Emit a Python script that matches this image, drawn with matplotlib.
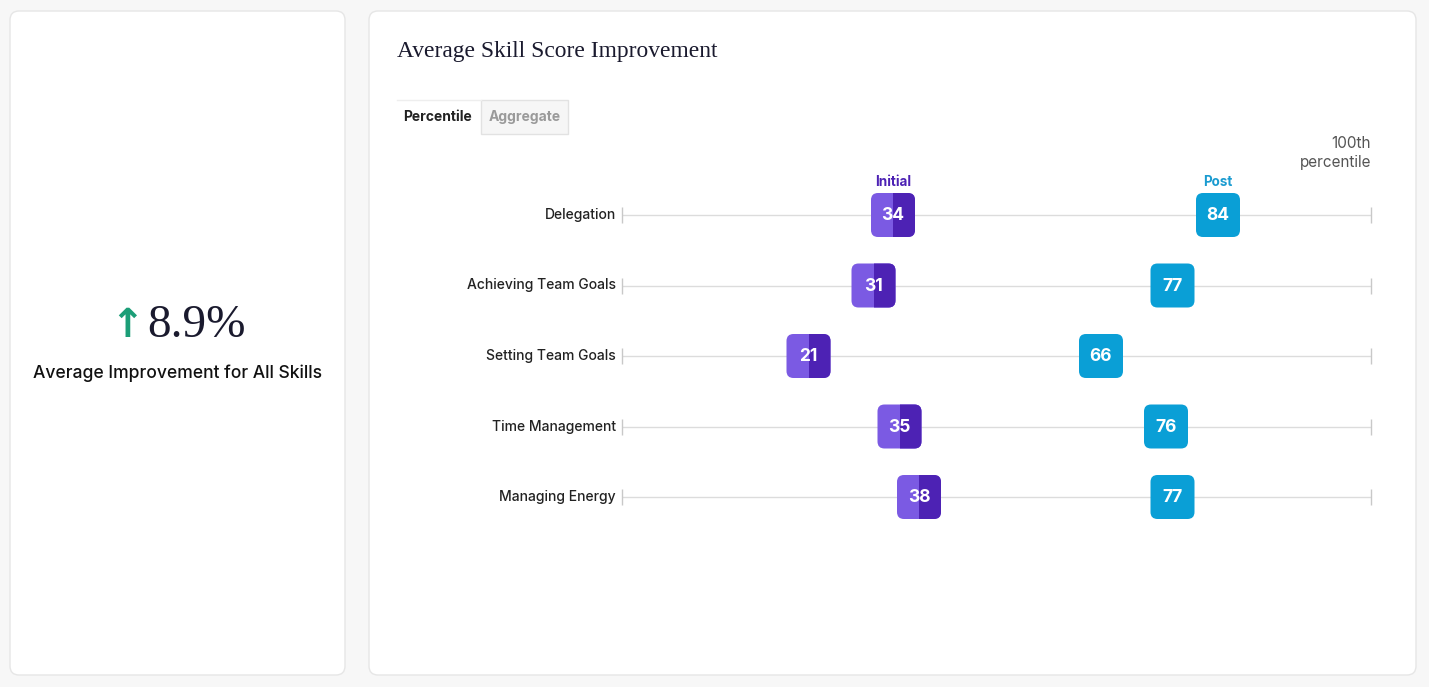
import matplotlib.pyplot as plt
import numpy as np
from matplotlib.patches import FancyBboxPatch, Rectangle

# Data
skills = ['Delegation', 'Achieving Team Goals', 'Setting Team Goals',
          'Time Management', 'Managing Energy']
initial = [34, 31, 21, 35, 38]
post = [84, 77, 66, 76, 77]
avg_improvement = '8.9%'

W, H = 1429, 687
fig = plt.figure(figsize=(W / 100, H / 100), dpi=100)
fig.patch.set_facecolor('#f7f7f7')

# background axes in pixel coordinates for cards and text
bg = fig.add_axes([0, 0, 1, 1])
bg.set_xlim(0, W)
bg.set_ylim(H, 0)
bg.axis('off')

for x0, x1 in [(10, 345), (369, 1416)]:
    bg.add_patch(FancyBboxPatch((x0, 11), x1 - x0, 664,
                                boxstyle='round,pad=0,rounding_size=9',
                                fc='white', ec='#e6e6e6', lw=1))

# left card
bg.text(127, 326, '↑', color='#1b9e77', fontsize=29, fontweight='bold',
        ha='center', va='center', family='DejaVu Sans')
bg.text(197, 326, avg_improvement, color='#1a1a2e', fontsize=34,
        ha='center', va='center', family='Liberation Serif')
bg.text(178, 373, 'Average Improvement for All Skills', color='#111111',
        fontsize=12.6, fontweight='medium', ha='center', va='center', family='Inter')

# right card title and tabs
bg.text(397, 52, 'Average Skill Score Improvement', color='#1a1a2e',
        fontsize=16.9, ha='left', va='center', family='Liberation Serif')
bg.add_patch(Rectangle((481, 100), 87, 34, fc='#f6f6f6', ec='#e2e2e2', lw=1))
bg.plot([397, 481], [100, 100], color='#eeeeee', lw=1)
bg.text(438, 117, 'Percentile', fontsize=10, fontweight='bold', color='#222222',
        ha='center', va='center', family='Inter')
bg.text(524.5, 117, 'Aggregate', fontsize=10, fontweight='bold', color='#9a9a9a',
        ha='center', va='center', family='Inter')
bg.text(1371, 153, '100th\npercentile', fontsize=11, color='#555555',
        ha='right', va='center', linespacing=1.25, family='Inter')

# dumbbell axes: 0 -> px 672, 100 -> px 1322, line spans px 622..1371
px_per = 6.5
xl = (0 - 50 / px_per, 100 + 49 / px_per)
ax = fig.add_axes([622 / W, 1 - 532.25 / H, (1371 - 622) / W, (532.25 - 179.75) / H])
ax.set_xlim(*xl)
ax.set_ylim(len(skills) - 0.5, -0.5)
ax.axis('off')

ys = np.arange(len(skills))
ax.hlines(ys, xl[0], xl[1], color='#dcdcdc', lw=1, zorder=1, clip_on=False)
tick_h = 8 / 70.5
for x in xl:
    ax.vlines([x] * len(ys), ys - tick_h, ys + tick_h, color='#c8c8c8', lw=1,
              zorder=1, clip_on=False)

for y, name in zip(ys, skills):
    ax.annotate(name, (xl[0], y), xytext=(-4.5, 0), textcoords='offset points',
                ha='right', va='center', fontsize=10, fontweight='medium',
                color='#222222', family='Inter', annotation_clip=False)

bw = 44 / px_per
bh = 44 / 70.5
asp = px_per / 70.5
light, dark, blue = '#7b5ae3', '#4d22b4', '#0a9fd6'


def box(x, y, color):
    p = FancyBboxPatch((x - bw / 2, y - bh / 2), bw, bh,
                       boxstyle='round,pad=0,rounding_size=%f' % (7 / px_per),
                       mutation_aspect=asp, fc=color, ec='none', zorder=3)
    ax.add_patch(p)
    return p


for y, a, b in zip(ys, initial, post):
    box(a, y, light)
    d = box(a, y, dark)
    clip = Rectangle((a, y - bh), bw, 2 * bh, transform=ax.transData)
    d.set_clip_path(clip)
    ax.text(a, y + 0.01, str(a), color='white', fontsize=12.5, fontweight='bold',
            ha='center', va='center', family='Inter', zorder=4)
    box(b, y, blue)
    ax.text(b, y + 0.01, str(b), color='white', fontsize=12.5, fontweight='bold',
            ha='center', va='center', family='Inter', zorder=4)

ax.annotate('Initial', (initial[0], 0), xytext=(0, 23.5), textcoords='offset points',
            ha='center', va='center', fontsize=9.7, fontweight='bold',
            color='#4d22b4', family='Inter', annotation_clip=False)
ax.annotate('Post', (post[0], 0), xytext=(0, 23.5), textcoords='offset points',
            ha='center', va='center', fontsize=9.7, fontweight='bold',
            color='#1a9bd0', family='Inter', annotation_clip=False)

fig.savefig('out.png', dpi=100)
